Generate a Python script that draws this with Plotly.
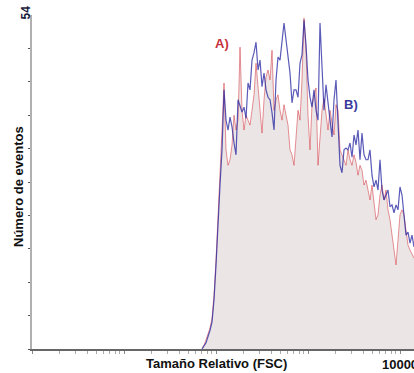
import numpy as np
import plotly.graph_objects as go

# Histogram counts (events per FSC channel)
counts_A = [0.2, 0.6, 1.5, 2.3, 3.4, 5.0, 8.7, 14.4, 20.9, 27.3,
            35.4, 43.0, 32.2, 29.7, 30.6, 33.0, 37.8, 35.4, 37.0, 48.8,
            38.6, 35.4, 37.8, 37.0, 36.2, 38.6, 41.1, 46.2, 41.9, 38.6,
            34.9, 40.3, 44.0, 45.1, 43.5, 48.3, 38.6, 40.3, 41.1, 38.6,
            37.0, 39.5, 37.8, 36.2, 32.2, 31.4, 29.7, 34.6, 38.6, 37.0,
            43.5, 53.5, 48.3, 37.8, 32.2, 39.5, 41.1, 42.2, 29.7, 33.8,
            38.6, 40.5, 37.8, 35.4, 38.6, 36.2, 34.6, 39.5, 38.6, 32.2,
            31.4, 30.6, 29.7, 32.2, 30.6, 29.7, 31.4, 30.2, 28.1, 29.7,
            28.9, 26.5, 27.3, 25.7, 24.1, 26.5, 23.3, 20.9, 21.7, 24.9,
            26.5, 24.1, 25.7, 22.5, 20.9, 18.4, 15.2, 13.6, 17.6, 21.7,
            22.5, 21.7, 19.2, 16.8, 16.0, 15.2, 14.7]

counts_B = [0.0, 0.5, 1.0, 2.0, 3.0, 4.4, 8.0, 13.6, 20.9, 26.5,
            32.2, 41.9, 37.0, 35.4, 37.5, 35.9, 33.3, 31.4, 40.3, 39.1,
            38.3, 39.1, 37.3, 43.0, 41.9, 46.7, 47.9, 49.6, 45.1, 46.7,
            42.4, 44.6, 41.9, 40.7, 40.3, 38.2, 35.4, 43.5, 47.2, 46.7,
            50.0, 52.7, 50.0, 46.7, 44.6, 39.8, 41.9, 41.9, 40.7, 46.2,
            47.6, 53.2, 49.2, 43.5, 40.7, 39.1, 41.9, 38.6, 37.0, 52.7,
            45.1, 38.6, 42.7, 40.3, 37.0, 34.3, 40.3, 43.5, 35.4, 29.7,
            28.5, 32.2, 32.5, 32.2, 33.3, 31.0, 34.6, 33.0, 35.4, 30.6,
            34.9, 31.4, 30.6, 30.6, 32.2, 28.1, 26.2, 27.3, 25.7, 30.6,
            25.7, 24.1, 24.9, 25.7, 23.0, 23.3, 22.0, 23.3, 22.5, 26.2,
            24.9, 21.7, 18.4, 18.9, 17.1, 18.4, 16.5]

# FSC channel centres (log-spaced histogram bins)
fsc = np.logspace(1.848, 4.152, len(counts_B))

y_ticks = [0, 5.4, 10.8, 16.2, 21.6, 27, 32.4, 37.8, 43.2, 48.6, 54]
y_max_label = "54"
x_major = [1, 10, 100, 1000, 10000]
x_major_text = ["", "", "", "", "10000"]
x_minor = [k * 10 ** n for n in range(0, 5) for k in range(2, 10)]

fig = go.Figure()
fig.add_trace(go.Scatter(x=fsc, y=counts_A, mode="lines",
                         line=dict(color="rgba(210,40,50,0.5)", width=1),
                         fill="tozeroy", fillcolor="rgb(235,229,229)",
                         hoverinfo="skip"))
fig.add_trace(go.Scatter(x=fsc, y=counts_B, mode="lines",
                         line=dict(color="rgba(35,35,160,0.75)", width=1.2),
                         hoverinfo="skip"))

fnt = "Liberation Sans, Arial, sans-serif"
fig.update_layout(
    width=414, height=373,
    margin=dict(l=32, r=0, t=15, b=24, autoexpand=False),
    paper_bgcolor="white", plot_bgcolor="white",
    showlegend=False,
    font=dict(family=fnt, size=13, color="#111"),
    xaxis=dict(type="log", range=[0, 4.152], showgrid=False, zeroline=False,
               automargin=False,
               showline=True, linecolor="#666", linewidth=1.5,
               tickvals=x_major, ticktext=x_major_text,
               ticklabeloverflow="allow",
               ticks="outside", ticklen=3, tickcolor="#888", tickwidth=1,
               tickfont=dict(family=fnt, size=13, color="#111", weight="bold"),
               minor=dict(tickvals=x_minor, ticks="outside", ticklen=3,
                          tickcolor="#aaa", tickwidth=1)),
    yaxis=dict(range=[0, 54], showgrid=False, zeroline=False,
               automargin=False,
               showline=True, linecolor="#b0b0b0", linewidth=2,
               tickvals=y_ticks, showticklabels=False,
               ticks="outside", ticklen=2, tickcolor="#555", tickwidth=1),
    annotations=[
        dict(text="<b>" + y_max_label + "</b>", xref="paper", yref="y",
             x=-6.5 / 382, y=y_ticks[-1], xanchor="center", yanchor="middle",
             yshift=2, textangle=-90, showarrow=False,
             font=dict(family=fnt, size=12, color="#1a1a3a")),
        dict(text="<b>Tamaño Relativo (FSC)</b>", xref="paper", yref="paper",
             x=(216 - 32) / 382, y=-14 / 334, xanchor="center", yanchor="middle",
             showarrow=False, font=dict(family=fnt, size=13, color="#111")),
        dict(text="<b>Número de eventos</b>", xref="paper", yref="paper",
             x=-14 / 382, y=(349 - 187) / 334, xanchor="center", yanchor="middle",
             textangle=-90, showarrow=False,
             font=dict(family=fnt, size=13, color="#111")),
        dict(text="<b>A)</b>", xref="paper", yref="paper",
             x=(222 - 32) / 382, y=(349 - 43) / 334, xanchor="center", yanchor="middle",
             showarrow=False, font=dict(family=fnt, size=13, color="#c8303c")),
        dict(text="<b>B)</b>", xref="paper", yref="paper",
             x=(351 - 32) / 382, y=(349 - 104) / 334, xanchor="center", yanchor="middle",
             showarrow=False, font=dict(family=fnt, size=13, color="#3a3a9e")),
    ],
)

fig.write_html("out.html")
